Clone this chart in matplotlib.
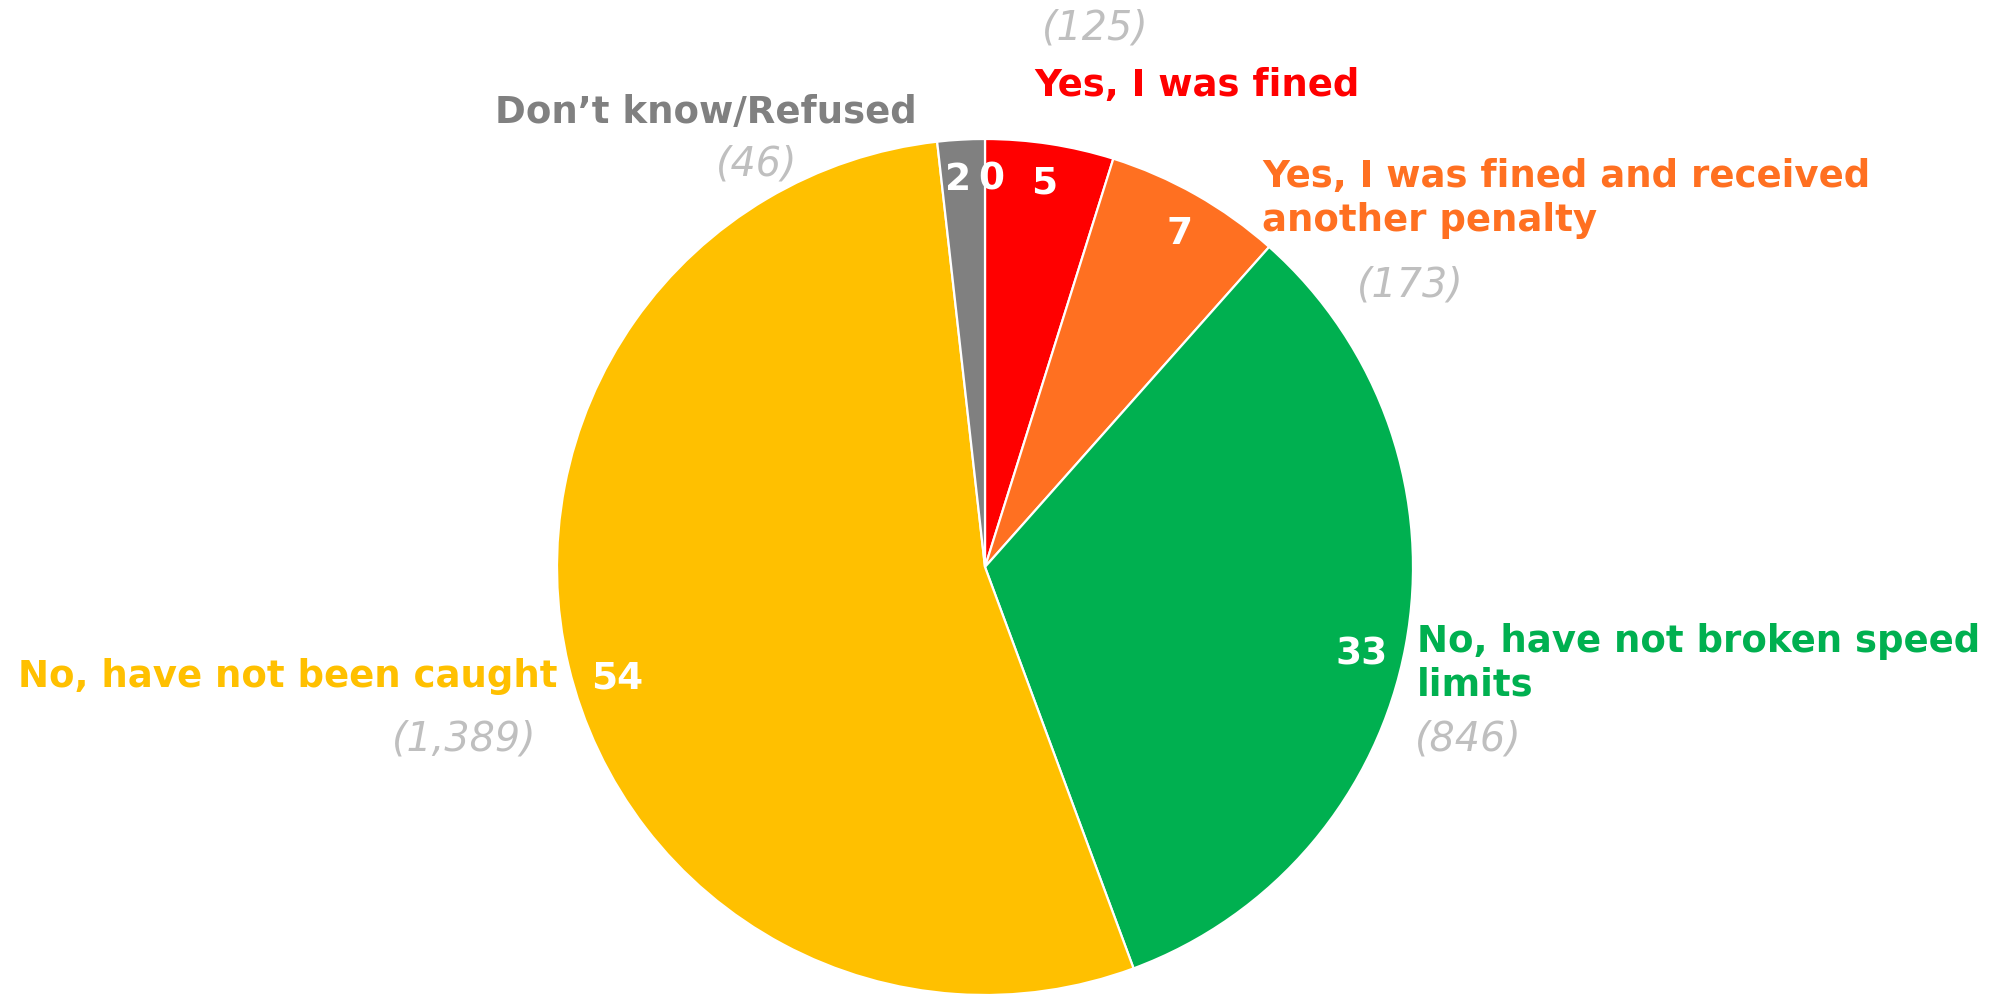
import matplotlib.pyplot as plt
import numpy as np

# survey answers, in pie order (clockwise from 12 o'clock)
categories = [
    "",
    "Yes, I was fined",
    "Yes, I was fined and received\nanother penalty",
    "No, have not broken speed\nlimits",
    "No, have not been caught",
    "Don\u2019t know/Refused",
]
counts = [0, 125, 173, 846, 1389, 46]
count_labels = ["", "(125)", "(173)", "(846)", "(1,389)", "(46)"]

colors = ["#FF0000", "#FF0000", "#FF7021", "#00B050", "#FFC000", "#808080"]
COUNT_COLOR = "#BFBFBF"

W, H = 2001, 997
CX, CY, R = 985, 567, 428  # pixel coords, y measured from top
LINE_GAP = 44


def py(y):
    return H - y


fig = plt.figure(figsize=(W / 100, H / 100), dpi=100)
ax = fig.add_axes([0, 0, 1, 1])

values = np.array(counts, dtype=float)
shares = values / values.sum() * 100
ax.pie(
    values,
    colors=colors,
    startangle=90,
    counterclock=False,
    center=(CX, py(CY)),
    radius=R,
    wedgeprops={"edgecolor": "white", "linewidth": 1.6},
)
ax.set_xlim(0, W)
ax.set_ylim(0, H)
ax.set_aspect("equal")
ax.axis("off")

# percentage labels near the rim of each slice
start = np.concatenate([[0], np.cumsum(shares)[:-1]]) * 3.6
mid = start + shares * 3.6 / 2
shift = [0.9, 0.0, 0.5, 1.8, -3.0, -0.8]
r_frac = [0.915, 0.915, 0.91, 0.90, 0.895, 0.915]
for m, s, d, rf in zip(mid, shares, shift, r_frac):
    a = np.deg2rad(m + d)
    x = CX + rf * R * np.sin(a)
    y = CY - rf * R * np.cos(a)
    ax.text(x, py(y), f"{s:.0f}", color="white", ha="center", va="center_baseline",
            family="DejaVu Sans", weight="bold", size=27)

# category names: (x, first baseline, ha)
name_pos = [
    None,
    (1034, 96, "left"),
    (1262, 187, "left"),
    (1417, 652, "left"),
    (18, 687, "left"),
    (917, 123, "right"),
]
for name, pos, c in zip(categories, name_pos, colors):
    if pos is None:
        continue
    x, y, ha = pos
    for i, line in enumerate(name.split("\n")):
        ax.text(x, py(y + i * LINE_GAP), line, color=c, ha=ha, va="baseline",
                family="DejaVu Sans", weight="bold", size=26.7)

# respondent counts: (x centre, baseline)
count_pos = [None, (1095, 40), (1410, 296), (1468, 751), (464, 751), (757, 176)]
for lbl, pos in zip(count_labels, count_pos):
    if pos is None:
        continue
    ax.text(pos[0], py(pos[1]), lbl, color=COUNT_COLOR, ha="center", va="baseline",
            family="DejaVu Sans", style="italic", size=28.5)

fig.savefig("out.png", dpi=100)
